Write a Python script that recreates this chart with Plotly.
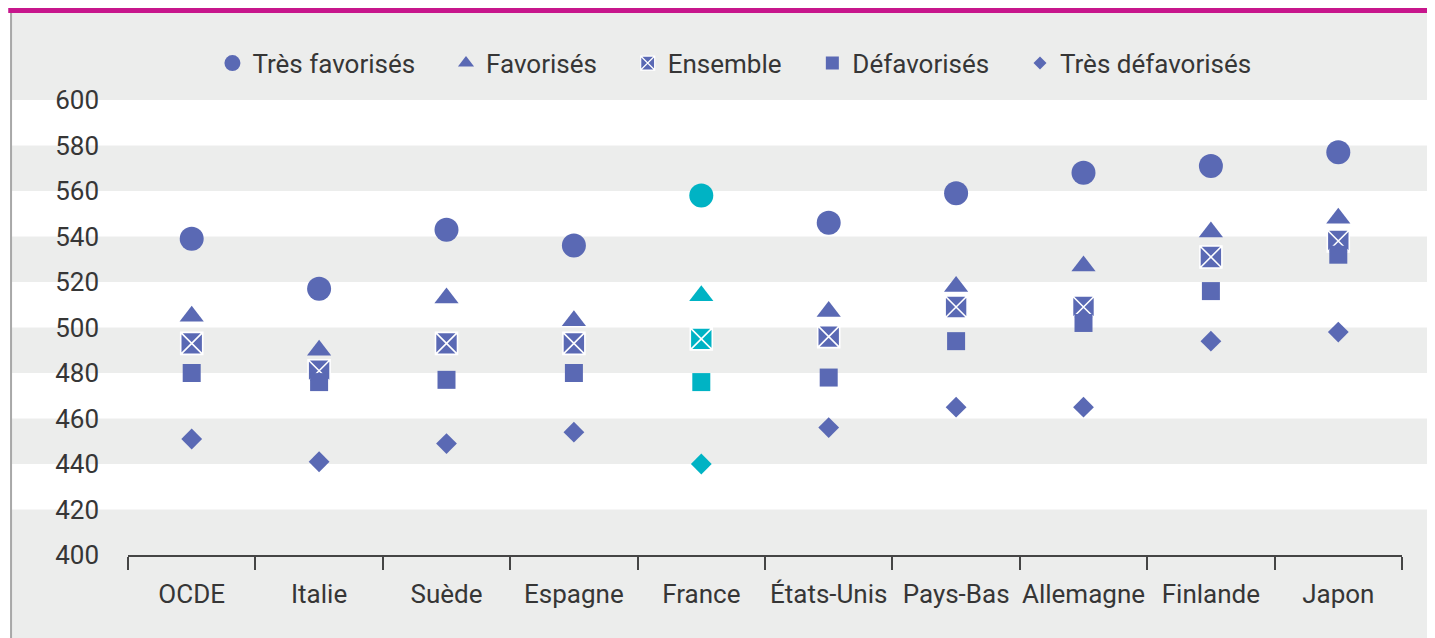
import plotly.graph_objects as go

countries = ["OCDE", "Italie", "Suède", "Espagne", "France", "États-Unis",
             "Pays-Bas", "Allemagne", "Finlande", "Japon"]
tres_favorises = [539, 517, 543, 536, 558, 546, 559, 568, 571, 577]
favorises = [505, 490, 513, 503, 514, 507, 518, 527, 542, 548]
ensemble = [493, 481, 493, 493, 495, 496, 509, 509, 531, 538]
defavorises = [480, 476, 477, 480, 476, 478, 494, 502, 516, 532]
tres_defavorises = [451, 441, 449, 454, 440, 456, 465, 465, 494, 498]
y_ticks = [400, 420, 440, 460, 480, 500, 520, 540, 560, 580, 600]
white_bands = [(420, 440), (460, 480), (500, 520), (540, 560), (580, 600)]

BLUE = "#5a69b4"
TEAL = "#00b3c4"
FONT = "Roboto, Liberation Sans, sans-serif"
TXT = "#363636"
PAD = "\u00a0" * 4

colors = [TEAL if c == "France" else BLUE for c in countries]

series = [
    ("Très favorisés", tres_favorises, "circle", 24, 16),
    ("Favorisés", favorises, "triangle-up", 21, 14),
    ("Ensemble", ensemble, "square-x", 22, 14),
    ("Défavorisés", defavorises, "square", 18, 13),
    ("Très défavorisés", tres_defavorises, "diamond", 16, 10),
]

fig = go.Figure()
for name, vals, sym, size, _ in series:
    line = dict(color="white", width=1.6) if sym == "square-x" else dict(width=0)
    fig.add_trace(go.Scatter(
        x=countries, y=vals, mode="markers", name=name, showlegend=False,
        marker=dict(symbol=sym, size=size, color=colors, line=line),
    ))

# legend-only entries (smaller symbols, as in the original)
for name, vals, sym, _, lsize in series:
    line = dict(color="white", width=1.2) if sym == "square-x" else dict(width=0)
    fig.add_trace(go.Scatter(
        x=[None], y=[None], mode="markers",
        name=name + (PAD if name != "Très défavorisés" else ""),
        marker=dict(symbol=sym, size=lsize, color=BLUE, line=line),
    ))

# background panel, white bands, frame decorations
shapes = [
    dict(type="rect", xref="paper", yref="paper", x0=-0.0911, x1=1.04,
         y0=-0.21, y1=1.191, fillcolor="#ecedec", line_width=0, layer="below"),
]
for lo, hi in white_bands:
    shapes.append(dict(type="rect", xref="paper", yref="y", x0=-0.0911, x1=1.04,
                       y0=lo, y1=hi, fillcolor="white", line_width=0, layer="below"))
shapes += [
    dict(type="rect", xref="paper", yref="paper", x0=-0.094, x1=1.04,
         y0=1.191, y1=1.21, fillcolor="#c7168c", line_width=0, layer="below"),
    dict(type="line", xref="paper", yref="paper", x0=-0.0918, x1=-0.0918,
         y0=-0.21, y1=1.191, line=dict(color="#a8a8a8", width=2), layer="below"),
]

fig.update_layout(
    width=1435, height=638,
    margin=dict(l=120, r=41, t=92, b=91),
    paper_bgcolor="white", plot_bgcolor="rgba(0,0,0,0)",
    font=dict(family=FONT, size=26, color=TXT),
    shapes=shapes,
    legend=dict(orientation="h", x=0.476, xanchor="center", y=1.081, yanchor="middle",
                bgcolor="rgba(0,0,0,0)", font=dict(size=26, color=TXT)),
    xaxis=dict(type="category", range=[-0.5, 9.5], showgrid=False, zeroline=False,
               showline=True, linecolor="#454545", linewidth=2, automargin=False,
               ticks="outside", tickson="boundaries", ticklen=13, tickwidth=2,
               tickcolor="#454545", tickangle=0, ticklabelstandoff=15),
    yaxis=dict(range=[400, 600], tickvals=y_ticks, showgrid=False, zeroline=False,
               showline=False, ticks="", ticklabelstandoff=28, automargin=False),
)

fig.write_html("out.html")
